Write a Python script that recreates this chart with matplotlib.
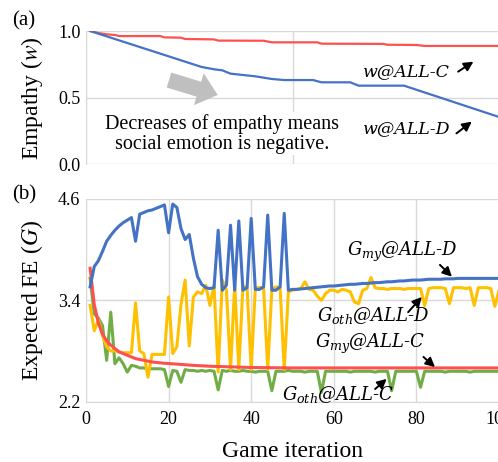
import matplotlib
matplotlib.use("Agg")
import matplotlib.pyplot as plt
from matplotlib.patches import FancyArrowPatch

plt.rcParams["font.family"] = ["Liberation Serif", "DejaVu Serif"]

# ---- (a) empathy ----
w_c_x = [1, 3, 5, 7, 8, 18, 19, 23, 24, 31, 32, 43, 45, 56, 57, 72, 73, 80, 82, 100]
w_c_y = [1.0, 0.985, 0.975, 0.97, 0.962, 0.962, 0.952, 0.95, 0.94, 0.937,
         0.928, 0.927, 0.915, 0.915, 0.905, 0.903, 0.897, 0.895, 0.888, 0.888]
w_d_x = [1, 28, 31, 33, 35, 38, 41, 45, 48, 55, 57, 64, 66, 77, 100]
w_d_y = [1.0, 0.73, 0.713, 0.705, 0.68, 0.67, 0.66, 0.64, 0.632, 0.632,
         0.615, 0.615, 0.59, 0.59, 0.355]

# ---- (b) expected free energy ----
iters = list(range(1, 101))
g_my_d = [3.56, 3.80, 3.87, 3.98, 4.10, 4.17, 4.23, 4.28, 4.32, 4.35,
          4.38, 4.10, 4.42, 4.44, 4.46, 4.47, 4.49, 4.51, 4.53, 4.20,
          4.54, 4.50, 4.25, 4.12, 4.18, 3.90, 3.68, 3.59, 3.55, 3.54,
          3.55, 4.23, 3.52, 3.58, 4.29, 3.52, 4.34, 3.52, 3.55, 4.37,
          3.53, 3.53, 3.56, 4.41, 3.52, 3.52, 3.56, 4.43, 3.52, 3.53,
          3.53, 3.535, 3.54, 3.545, 3.55, 3.555, 3.56, 3.565, 3.57, 3.57,
          3.575, 3.58, 3.585, 3.59, 3.59, 3.595, 3.60, 3.60, 3.605, 3.61,
          3.61, 3.615, 3.62, 3.62, 3.625, 3.63, 3.63, 3.635, 3.64, 3.64,
          3.64, 3.645, 3.65, 3.65, 3.65, 3.65, 3.655, 3.655, 3.655, 3.66,
          3.66, 3.66, 3.66, 3.66, 3.66, 3.66, 3.66, 3.66, 3.66, 3.66]
g_oth_d = [3.34, 3.04, 3.17, 2.98, 2.85, 2.80, 2.80, 2.79, 2.78, 2.78,
           2.78, 3.37, 2.80, 2.77, 2.49, 2.76, 2.76, 2.76, 2.76, 3.44,
           2.77, 2.85, 3.35, 3.64, 2.86, 3.44, 3.50, 3.48, 3.58, 3.34,
           3.58, 2.55, 3.64, 3.52, 2.58, 3.58, 2.58, 3.57, 3.55, 2.58,
           3.55, 3.55, 3.55, 2.58, 3.53, 3.56, 3.55, 2.58, 3.50, 3.52,
           3.53, 3.54, 3.62, 3.53, 3.52, 3.45, 3.40, 3.48, 3.52, 3.52,
           3.50, 3.53, 3.52, 3.50, 3.38, 3.36, 3.52, 3.54, 3.67, 3.55,
           3.54, 3.54, 3.53, 3.54, 3.54, 3.54, 3.53, 3.54, 3.54, 3.54,
           3.54, 3.34, 3.54, 3.55, 3.55, 3.55, 3.54, 3.36, 3.55, 3.55,
           3.55, 3.54, 3.55, 3.34, 3.55, 3.55, 3.55, 3.54, 3.33, 3.52]
g_oth_c = [3.66, 3.24, 3.19, 3.10, 2.69, 3.26, 2.65, 2.72, 2.65, 2.55,
           2.63, 2.62, 2.60, 2.60, 2.59, 2.59, 2.59, 2.59, 2.58, 2.38,
           2.57, 2.56, 2.43, 2.58, 2.57, 2.57, 2.56, 2.57, 2.56, 2.57,
           2.56, 2.34, 2.57, 2.56, 2.57, 2.56, 2.56, 2.57, 2.56, 2.56,
           2.55, 2.56, 2.56, 2.56, 2.33, 2.56, 2.56, 2.56, 2.57, 2.56,
           2.56, 2.56, 2.55, 2.56, 2.56, 2.56, 2.31, 2.56, 2.56, 2.56,
           2.56, 2.56, 2.56, 2.55, 2.56, 2.56, 2.56, 2.56, 2.56, 2.55,
           2.56, 2.56, 2.56, 2.33, 2.56, 2.56, 2.56, 2.56, 2.56, 2.56,
           2.37, 2.56, 2.56, 2.56, 2.56, 2.56, 2.55, 2.56, 2.56, 2.56,
           2.56, 2.56, 2.55, 2.56, 2.56, 2.56, 2.56, 2.56, 2.56, 2.56]
g_my_c_x = [1, 2, 3, 4, 5, 6, 7, 8, 10, 12, 14, 16, 19, 22, 26, 30, 40, 50, 100]
g_my_c_y = [3.78, 3.35, 3.13, 3.00, 2.92, 2.87, 2.83, 2.79, 2.75, 2.71,
            2.69, 2.67, 2.655, 2.645, 2.63, 2.62, 2.605, 2.60, 2.60]

BLUE = "#4472C4"
RED = "#FF5050"
YELLOW = "#FFC000"
GREEN = "#70AD47"
GRID = "#d9d9d9"

fig = plt.figure(figsize=(4.98, 4.62), dpi=100)
W, H = 498, 462
ax1 = fig.add_axes([86 / W, 1 - 164.3 / H, 413 / W, 133.3 / H])
ax2 = fig.add_axes([86 / W, 1 - 401.7 / H, 413 / W, 202.7 / H])


def style(ax):
    for s in ax.spines.values():
        s.set_visible(False)
    ax.spines["left"].set_visible(True)
    ax.spines["left"].set_color(GRID)
    ax.grid(True, color=GRID, linewidth=1.0)
    ax.set_axisbelow(True)
    ax.tick_params(length=0, labelsize=13, pad=4)


# (a)
style(ax1)
ax1.plot(w_c_x, w_c_y, color=RED, lw=1.6)
ax1.plot(w_d_x, w_d_y, color=BLUE, lw=1.6)
ax1.set_xlim(0, 100)
ax1.set_ylim(0, 1.0)
ax1.set_yticks([0.0, 0.5, 1.0])
ax1.set_yticklabels(["0.0", "0.5", "1.0"])
ax1.set_xticks([0, 50, 100])
ax1.tick_params(axis="x", labelbottom=False)
ax1.set_ylabel("Empathy ($w$)", fontsize=17, math_fontfamily="stix")
ax1.yaxis.set_label_coords(-0.10, 0.5)

big = FancyArrowPatch((20.1, 0.632), (31.9, 0.52),
                      arrowstyle="simple,head_length=0.95,head_width=1.6,tail_width=0.75",
                      mutation_scale=15, color="#bfbfbf", lw=0,
                      shrinkA=0, shrinkB=0, zorder=3)
ax1.add_patch(big)
ax1.text(33, 0.228, "Decreases of empathy means\nsocial emotion is negative.",
         ha="center", va="center", fontsize=14.5, linespacing=1.08, zorder=4,
         bbox=dict(facecolor="white", edgecolor="none", pad=1))

lab = dict(fontsize=13, family="DejaVu Serif", style="italic",
           math_fontfamily="dejavuserif", va="center", ha="left", zorder=5)
ax1.text(66.8, 0.695, "w@ALL-C", **{**lab, "fontsize": 12.5})
ax1.text(66.8, 0.27, "w@ALL-D", **{**lab, "fontsize": 12.5})
ap = dict(arrowstyle="-|>,head_length=0.55,head_width=0.28", color="black", lw=1.4,
          shrinkA=0, shrinkB=0)
ax1.annotate("", xy=(93.8, 0.77), xytext=(90.1, 0.695), arrowprops=ap)
ax1.annotate("", xy=(93.4, 0.32), xytext=(89.7, 0.232), arrowprops=ap)

# (b)
style(ax2)
ax2.plot(iters, g_oth_c, color=GREEN, lw=2.2)
ax2.plot(iters, g_oth_d, color=YELLOW, lw=2.2)
ax2.plot(g_my_c_x, g_my_c_y, color=RED, lw=2.2)
ax2.plot(iters, g_my_d, color=BLUE, lw=2.2)
ax2.set_xlim(0, 100)
ax2.set_ylim(2.2, 4.6)
ax2.set_yticks([2.2, 3.4, 4.6])
ax2.set_xticks([0, 20, 40, 60, 80, 100])
ax2.tick_params(axis="x", pad=7)
ax2.spines["bottom"].set_visible(True)
ax2.spines["bottom"].set_color(GRID)
ax2.set_ylabel("Expected FE ($G$)", fontsize=17, math_fontfamily="stix")
ax2.yaxis.set_label_coords(-0.10, 0.5)
ax2.set_xlabel("Game iteration", fontsize=17, labelpad=9)

ax2.text(63.1, 3.974, "$G_{my}$@ALL-D", **lab)
ax2.text(55.9, 3.222, "$G_{oth}$@ALL-D", **lab)
ax2.text(55.4, 2.886, "$G_{my}$@ALL-C", **lab)
ax2.text(47.4, 2.29, "$G_{oth}$@ALL-C", **lab)
ax2.annotate("", xy=(88.6, 3.68), xytext=(85.7, 3.82), arrowprops=ap)
ax2.annotate("", xy=(81.3, 3.44), xytext=(78.0, 3.26), arrowprops=ap)
ax2.annotate("", xy=(84.5, 2.61), xytext=(81.7, 2.73), arrowprops=ap)
ax2.annotate("", xy=(72.8, 2.47), xytext=(70.0, 2.35), arrowprops=ap)

fig.text(24 / W, 1 - 21 / H, "(a)", fontsize=15, ha="center", va="center")
fig.text(24 / W, 1 - 195 / H, "(b)", fontsize=15, ha="center", va="center")

fig.savefig("out.png", dpi=100)
